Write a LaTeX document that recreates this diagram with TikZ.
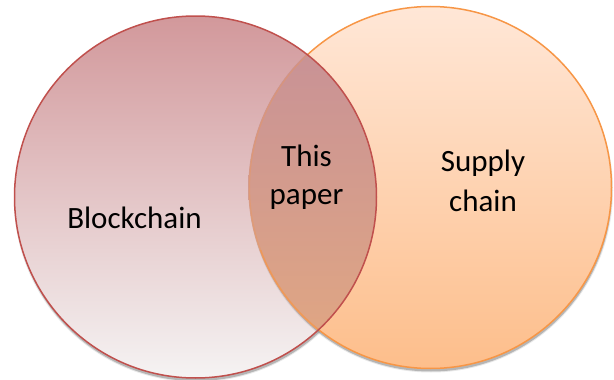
\documentclass[tikz,border=0pt]{standalone}
\usepackage{fontspec}
\setmainfont{Carlito}
\definecolor{bcTop}{RGB}{210,152,155}
\definecolor{bcMid}{RGB}{205,174,180}
\definecolor{bcBot}{RGB}{245,243,243}
\definecolor{scTop}{RGB}{255,231,215}
\definecolor{scBot}{RGB}{253,190,139}
\definecolor{ovTop}{RGB}{197,143,153}
\definecolor{ovBot}{RGB}{226,168,129}
\definecolor{bcLine}{RGB}{192,80,77}
\definecolor{scLine}{RGB}{247,150,70}
\tikzset{
  vennshadow/.style={fill=black!45, opacity=0.55},
  vennshadowsoft/.style={fill=black!45, opacity=0.2},
  venntext/.style={font=\fontsize{31}{38}\selectfont, align=center, inner sep=0pt},
}
\begin{document}
\begin{tikzpicture}[x=1pt,y=-1pt]
\useasboundingbox (0,0) rectangle (614,380);
\def\vennr{181pt}
\coordinate (lc) at (195.5,197);
\coordinate (rc) at (430.5,187.5);
\coordinate (lcs) at (196,200);
\coordinate (rcs) at (431,190.5);

% Blockchain set: shadow and fill
\fill[vennshadowsoft] (lcs) circle [radius=182pt];
\fill[vennshadow] (lcs) circle [radius=\vennr];
\shade[top color=bcTop, middle color=bcMid, bottom color=bcBot] (lc) circle [radius=\vennr];

% Supply chain set: shadow, fill and outline
\fill[vennshadowsoft] (rcs) circle [radius=182pt];
\fill[vennshadow] (rcs) circle [radius=\vennr];
\shade[top color=scTop, bottom color=scBot] (rc) circle [radius=\vennr];
\draw[scLine, line width=1.5pt] (rc) circle [radius=\vennr];

% Overlap of both sets
\begin{scope}
  \clip (lc) circle [radius=\vennr];
  \shade[top color=ovTop, bottom color=ovBot] (rc) circle [radius=182.2pt];
  \draw[scLine, line width=1.2pt, opacity=0.3] (rc) circle [radius=\vennr];
  \clip (0,250) rectangle (614,380);
  \draw[scLine, line width=1.5pt, opacity=0.6] (rc) circle [radius=\vennr];
\end{scope}

% Blockchain outline on top
\draw[bcLine, line width=1.5pt] (lc) circle [radius=\vennr];

% Labels
\node[venntext, anchor=base] (blockchain) at (134.5,228) {Blockchain};
\node[venntext] (thispaper) at (306.5,177) {This\\paper};
\node[venntext] (supplychain) at (483,181) {Supply\\[2pt]chain};
\end{tikzpicture}
\end{document}
